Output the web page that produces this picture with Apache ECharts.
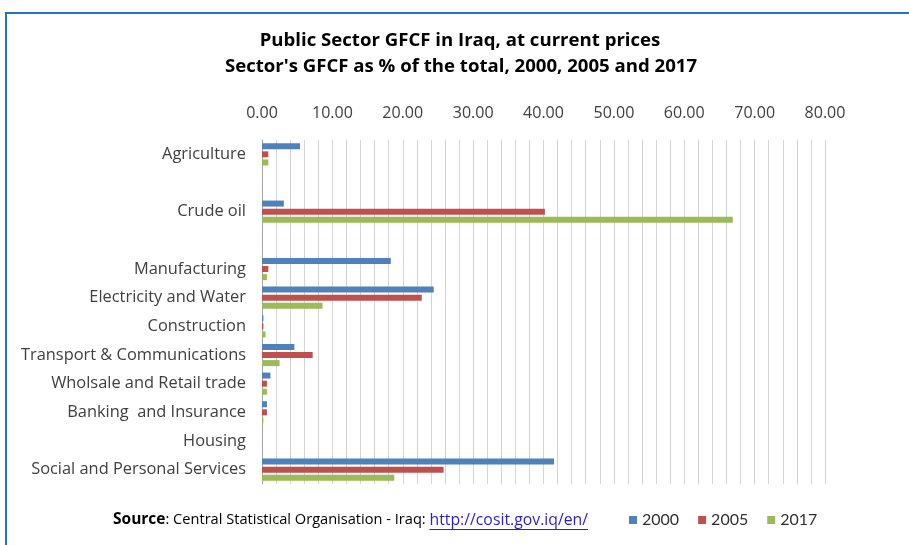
<!DOCTYPE html>
<html>
<head>
<meta charset="utf-8">
<script src="https://cdn.jsdelivr.net/npm/echarts@6/dist/echarts.min.js"></script>
<style>
html,body{margin:0;padding:0;background:#fff;}
#c{width:909px;height:545px;}
</style>
</head>
<body>
<div id="c"></div>
<script>
// Categories (blank entries are empty rows in the original chart)
var categories = ['Agriculture', '', 'Crude oil', '', 'Manufacturing', 'Electricity and Water', 'Construction', 'Transport & Communications', 'Wholsale and Retail trade', 'Banking  and Insurance', 'Housing', 'Social and Personal Services'];
var seriesNames = ['2000', '2005', '2017'];
var v2000 = [5.4, null, 3.1, null, 18.3, 24.4, 0.2, 4.6, 1.2, 0.7, 0, 41.5];
var v2005 = [0.9, null, 40.2, null, 0.9, 22.7, 0.2, 7.2, 0.7, 0.7, 0, 25.8];
var v2017 = [0.9, null, 66.9, null, 0.7, 8.6, 0.5, 2.5, 0.7, 0.2, 0, 18.8];
var axisTicks = [0, 10, 20, 30, 40, 50, 60, 70, 80];
var titleLines = ['Public Sector GFCF in Iraq, at current prices', "Sector's GFCF as % of the total, 2000, 2005 and 2017"];
var sourceLabel = 'Source';
var sourceText = ': Central Statistical Organisation - Iraq: ';
var sourceLink = 'http://cosit.gov.iq/en/';

var FONT = '"Open Sans"';
var colors = ['#4f81bd', '#c0504d', '#9bbb59'];

function measure(text, size, weight) {
  var cv = document.createElement('canvas').getContext('2d');
  cv.font = (weight || 'normal') + ' ' + size + 'px ' + FONT;
  return cv.measureText(text).width;
}

var chart = echarts.init(document.getElementById('c'), null, {renderer: 'canvas'});

var srcX = 113, srcY = 520, srcSize = 14.6, srcBold = 15.5, linkSize = 15.8;
var w1 = measure(sourceLabel, srcBold, 'bold');
var w2 = measure(sourceText, srcSize, 'normal');
var w3 = measure(sourceLink, linkSize, 'normal');

var option = {
  animation: false,
  color: colors,
  textStyle: {fontFamily: FONT},
  grid: {left: 262, right: 84, top: 140, bottom: 61, containLabel: false},
  xAxis: {
    type: 'value', position: 'top', min: axisTicks[0], max: axisTicks[axisTicks.length - 1], interval: 2,
    axisLine: {show: false}, axisTick: {show: false},
    splitLine: {show: true, lineStyle: {color: '#d4d4d4', width: 1}},
    axisLabel: {
      margin: 19, color: '#404040', fontSize: 16, fontFamily: FONT,
      formatter: function (v) { return axisTicks.indexOf(v) >= 0 ? v.toFixed(2) : ''; }
    }
  },
  yAxis: {
    type: 'category', data: categories, inverse: true,
    axisLine: {show: true, lineStyle: {color: '#a6a6a6'}},
    axisTick: {show: false},
    axisLabel: {margin: 16, color: '#404040', fontSize: 16.4, fontFamily: FONT, interval: 0, verticalAlign: 'middle', padding: [2, 0, 0, 0]}
  },
  legend: {
    data: seriesNames, left: 624, top: 507, icon: 'rect', itemWidth: 8, itemHeight: 8, itemGap: 19,
    textStyle: {fontSize: 16, color: '#303030', fontFamily: 'Lato', padding: [0, 0, 0, 0]}
  },
  series: [
    {name: seriesNames[0], type: 'bar', data: v2000, barWidth: 6, barGap: '35%'},
    {name: seriesNames[1], type: 'bar', data: v2005, barWidth: 6, barGap: '35%'},
    {name: seriesNames[2], type: 'bar', data: v2017, barWidth: 6, barGap: '35%'}
  ],
  graphic: [
    {type: 'rect', shape: {x: 5, y: 12, width: 910, height: 2}, style: {fill: '#1f72c6'}},
    {type: 'rect', shape: {x: 5, y: 12, width: 2, height: 540}, style: {fill: '#1f72c6'}},
    {type: 'text', x: 460, y: 41, style: {text: titleLines[0], font: 'bold 18.6px ' + FONT, fill: '#000', align: 'center', verticalAlign: 'middle'}},
    {type: 'text', x: 461, y: 67, style: {text: titleLines[1], font: 'bold 18.6px ' + FONT, fill: '#000', align: 'center', verticalAlign: 'middle'}},
    {type: 'text', x: srcX, y: srcY, style: {
      text: '{b|' + sourceLabel + '}{n|' + sourceText + '}',
      verticalAlign: 'middle',
      rich: {
        b: {fontFamily: FONT, fontWeight: 'bold', fontSize: srcBold, fill: '#000', color: '#000'},
        n: {fontFamily: FONT, fontSize: srcSize, fill: '#000', color: '#000'}
      }
    }},
    {type: 'text', x: srcX + w1 + w2, y: srcY, style: {text: sourceLink, font: linkSize + 'px ' + FONT, fill: '#2a1fd0', verticalAlign: 'middle'}},
    {type: 'rect', shape: {x: srcX + w1 + w2, y: srcY + 9, width: w3, height: 1}, style: {fill: '#2a1fd0'}}
  ]
};
chart.setOption(option);
</script>
</body>
</html>
